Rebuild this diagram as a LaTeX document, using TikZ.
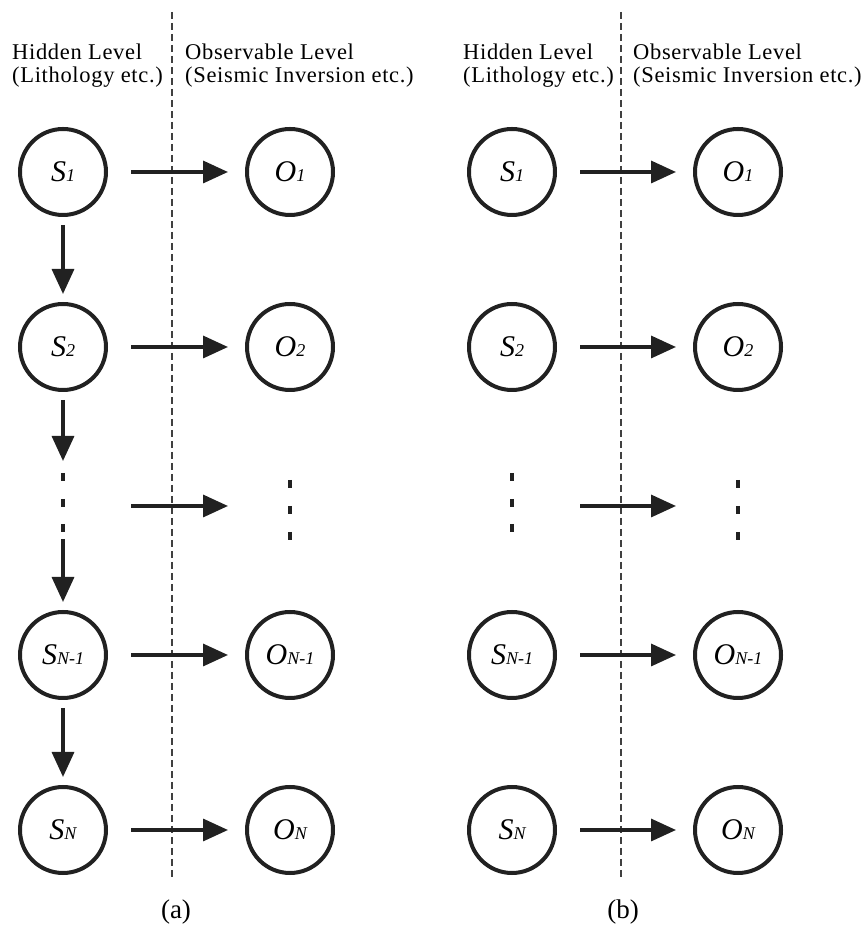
\documentclass[tikz,border=0pt]{standalone}
\usepackage{fontspec}
\setmainfont{Liberation Serif}
\usepackage{tikz}
\usetikzlibrary{arrows.meta}
\newcommand{\lowsub}[1]{{\fontsize{18}{18}\selectfont #1}}
\tikzstyle{state} = [circle, draw=black!87, line width=4pt, minimum size=86pt, inner sep=0pt, font=\fontsize{30}{30}\selectfont\itshape]
\tikzstyle{gap} = [rectangle, line width=4pt, minimum width=86pt, minimum height=58pt, inner sep=0pt]
\tikzstyle{arrow} = [draw=black!87, line width=3.4pt, -{Triangle[length=25pt,width=22pt]}]
\tikzstyle{harrow} = [arrow, shorten <=23pt, shorten >=17pt]
\tikzstyle{varrow} = [arrow, shorten <=8pt, shorten >=8pt]
\tikzstyle{divider} = [draw=black!75, line width=1.1pt, dash pattern=on 7pt off 4pt]
\tikzstyle{dotmark} = [draw=black!87, line width=4pt]
\tikzstyle{levellabel} = [anchor=north west, align=left, inner sep=0pt, font=\fontsize{22.5}{22.5}\selectfont\addfontfeature{LetterSpace=3}]
\tikzstyle{panellabel} = [anchor=base, inner sep=0pt, font=\fontsize{27}{27}\selectfont]

\begin{document}
\begin{tikzpicture}[x=1pt, y=1pt]
\useasboundingbox (0,0) rectangle (864,926);

% panel (a): hidden chain with transitions
\draw[divider] (172,914) -- (172,46);
\node[levellabel] (hida) at (12,882) {Hidden Level\\(Lithology etc.)};
\node[levellabel] (obsa) at (185,882) {Observable Level\\(Seismic Inversion etc.)};

\node[state] (s1a) at (63,754) {S\lowsub{1}};
\node[state] (s2a) at (63,579) {S\lowsub{2}};
\node[gap] (sda) at (63,426) {};
\node[state] (sn1a) at (63,271) {S\lowsub{N-1}};
\node[state] (sna) at (63,96) {S\lowsub{N}};

\node[state] (o1a) at (290,754) {O\lowsub{1}};
\node[state] (o2a) at (290,579) {O\lowsub{2}};
\node[gap] (oda) at (290,420) {};
\node[state] (on1a) at (290,271) {O\lowsub{N-1}};
\node[state] (ona) at (290,96) {O\lowsub{N}};

\foreach \d in {23,-3,-28}
    \draw[dotmark] (sda.center) ++(0,\d+4) -- ++(0,-8);
\foreach \d in {22,-4,-30}
    \draw[dotmark] (oda.center) ++(0,\d+4) -- ++(0,-8);

\draw[varrow] (s1a) -- (s2a);
\draw[varrow] (s2a) -- (sda);
\draw[varrow] (sda) -- (sn1a);
\draw[varrow] (sn1a) -- (sna);

\draw[harrow] (s1a) -- (o1a);
\draw[harrow] (s2a) -- (o2a);
\draw[harrow] (sda.east |- oda.west) -- (oda);
\draw[harrow] (sn1a) -- (on1a);
\draw[harrow] (sna) -- (ona);

\node[panellabel] (capa) at (176,7) {(a)};

% panel (b): independent states
\begin{scope}[xshift=449pt]
\draw[divider] (172,914) -- (172,46);
\node[levellabel] (hidb) at (14,882) {Hidden Level\\(Lithology etc.)};
\node[levellabel] (obsb) at (184,882) {Observable Level\\(Seismic Inversion etc.)};

\node[state] (s1b) at (63,754) {S\lowsub{1}};
\node[state] (s2b) at (63,579) {S\lowsub{2}};
\node[gap] (sdb) at (63,426) {};
\node[state] (sn1b) at (63,271) {S\lowsub{N-1}};
\node[state] (snb) at (63,96) {S\lowsub{N}};

\node[state] (o1b) at (289,754) {O\lowsub{1}};
\node[state] (o2b) at (289,579) {O\lowsub{2}};
\node[gap] (odb) at (289,420) {};
\node[state] (on1b) at (289,271) {O\lowsub{N-1}};
\node[state] (onb) at (289,96) {O\lowsub{N}};

\foreach \d in {23,-3,-28}
    \draw[dotmark] (sdb.center) ++(0,\d+4) -- ++(0,-8);
\foreach \d in {22,-4,-30}
    \draw[dotmark] (odb.center) ++(0,\d+4) -- ++(0,-8);

\draw[harrow] (s1b) -- (o1b);
\draw[harrow] (s2b) -- (o2b);
\draw[harrow] (sdb.east |- odb.west) -- (odb);
\draw[harrow] (sn1b) -- (on1b);
\draw[harrow] (snb) -- (onb);

\node[panellabel] (capb) at (174,7) {(b)};
\end{scope}
\end{tikzpicture}
\end{document}
